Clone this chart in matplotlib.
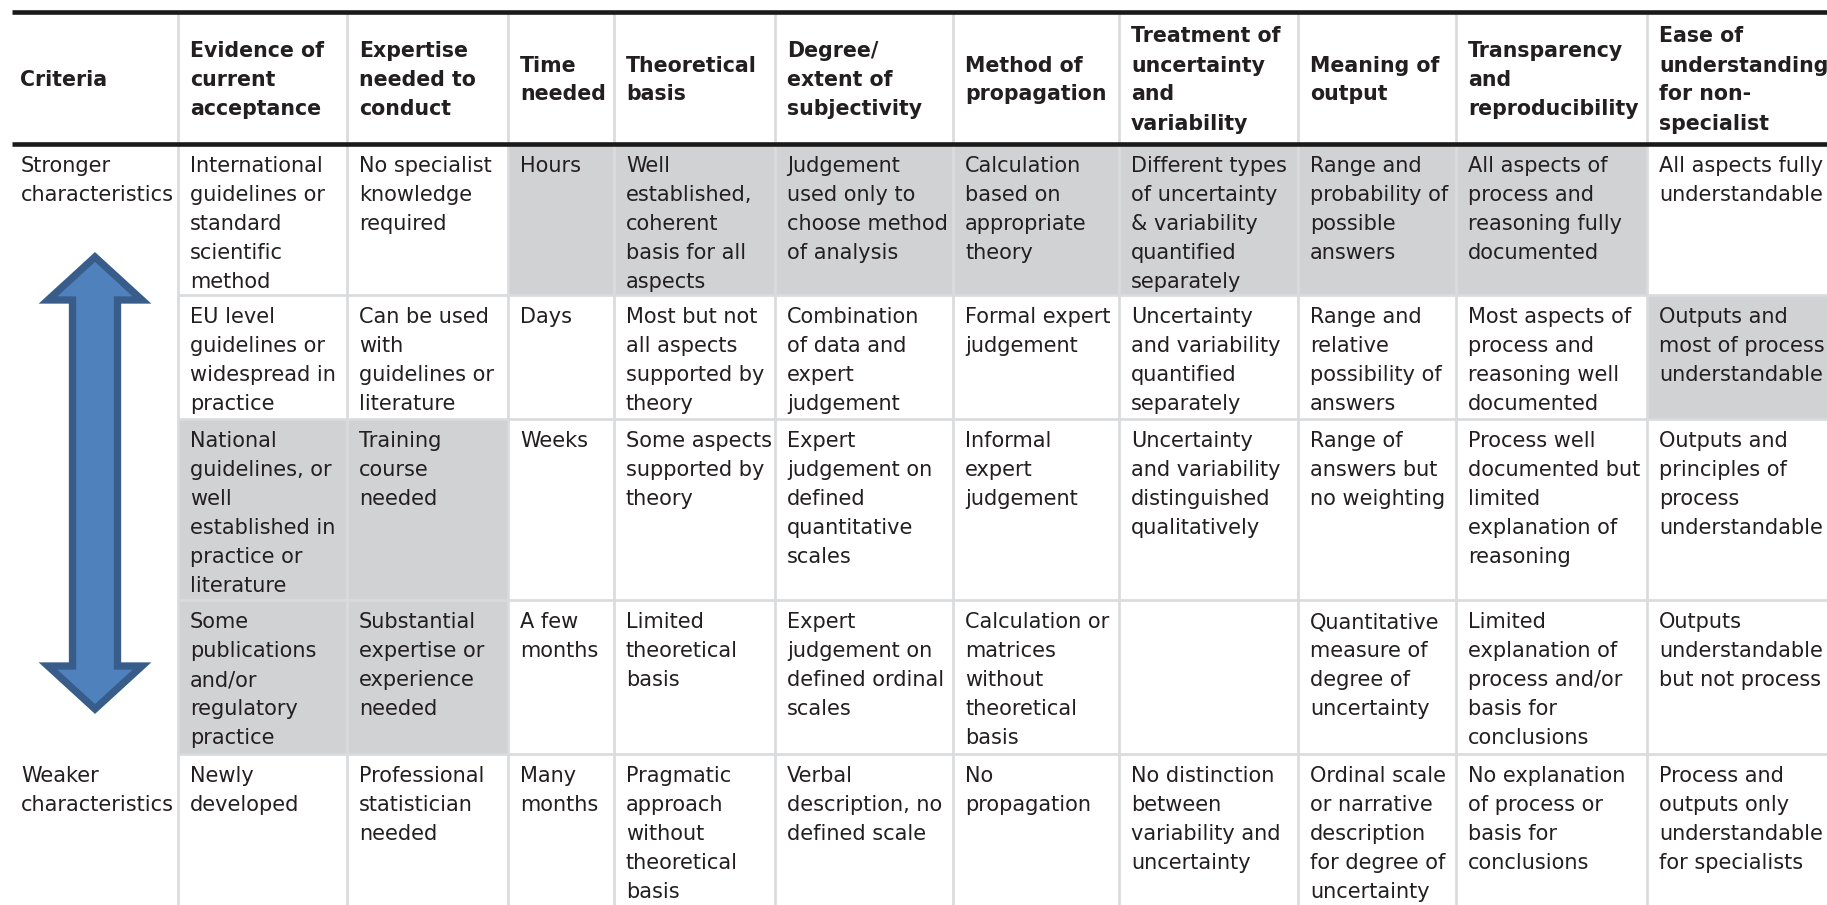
import matplotlib
matplotlib.use("Agg")
import matplotlib.pyplot as plt
from matplotlib.patches import Rectangle, Polygon

# ---------------- data ----------------
headers = ["Criteria", "Evidence of\ncurrent\nacceptance", "Expertise\nneeded to\nconduct",
           "Time\nneeded", "Theoretical\nbasis", "Degree/\nextent of\nsubjectivity",
           "Method of\npropagation", "Treatment of\nuncertainty\nand\nvariability",
           "Meaning of\noutput", "Transparency\nand\nreproducibility",
           "Ease of\nunderstanding\nfor non-\nspecialist"]

row_labels = ["Stronger\ncharacteristics", "", "", "", "Weaker\ncharacteristics"]

evidence = ["International\nguidelines or\nstandard\nscientific\nmethod",
            "EU level\nguidelines or\nwidespread in\npractice",
            "National\nguidelines, or\nwell\nestablished in\npractice or\nliterature",
            "Some\npublications\nand/or\nregulatory\npractice",
            "Newly\ndeveloped"]
expertise = ["No specialist\nknowledge\nrequired",
             "Can be used\nwith\nguidelines or\nliterature",
             "Training\ncourse\nneeded",
             "Substantial\nexpertise or\nexperience\nneeded",
             "Professional\nstatistician\nneeded"]
time_needed = ["Hours", "Days", "Weeks", "A few\nmonths", "Many\nmonths"]
theory = ["Well\nestablished,\ncoherent\nbasis for all\naspects",
          "Most but not\nall aspects\nsupported by\ntheory",
          "Some aspects\nsupported by\ntheory",
          "Limited\ntheoretical\nbasis",
          "Pragmatic\napproach\nwithout\ntheoretical\nbasis"]
subjectivity = ["Judgement\nused only to\nchoose method\nof analysis",
                "Combination\nof data and\nexpert\njudgement",
                "Expert\njudgement on\ndefined\nquantitative\nscales",
                "Expert\njudgement on\ndefined ordinal\nscales",
                "Verbal\ndescription, no\ndefined scale"]
propagation = ["Calculation\nbased on\nappropriate\ntheory",
               "Formal expert\njudgement",
               "Informal\nexpert\njudgement",
               "Calculation or\nmatrices\nwithout\ntheoretical\nbasis",
               "No\npropagation"]
treatment = ["Different types\nof uncertainty\n& variability\nquantified\nseparately",
             "Uncertainty\nand variability\nquantified\nseparately",
             "Uncertainty\nand variability\ndistinguished\nqualitatively",
             "",
             "No distinction\nbetween\nvariability and\nuncertainty"]
meaning = ["Range and\nprobability of\npossible\nanswers",
           "Range and\nrelative\npossibility of\nanswers",
           "Range of\nanswers but\nno weighting",
           "Quantitative\nmeasure of\ndegree of\nuncertainty",
           "Ordinal scale\nor narrative\ndescription\nfor degree of\nuncertainty"]
transparency = ["All aspects of\nprocess and\nreasoning fully\ndocumented",
                "Most aspects of\nprocess and\nreasoning well\ndocumented",
                "Process well\ndocumented but\nlimited\nexplanation of\nreasoning",
                "Limited\nexplanation of\nprocess and/or\nbasis for\nconclusions",
                "No explanation\nof process or\nbasis for\nconclusions"]
ease = ["All aspects fully\nunderstandable",
        "Outputs and\nmost of process\nunderstandable",
        "Outputs and\nprinciples of\nprocess\nunderstandable",
        "Outputs\nunderstandable\nbut not process",
        "Process and\noutputs only\nunderstandable\nfor specialists"]

columns = [evidence, expertise, time_needed, theory, subjectivity,
           propagation, treatment, meaning, transparency, ease]

shaded = [
    [0, 0, 1, 1, 1, 1, 1, 1, 1, 0],
    [0, 0, 0, 0, 0, 0, 0, 0, 0, 1],
    [1, 1, 0, 0, 0, 0, 0, 0, 0, 0],
    [1, 1, 0, 0, 0, 0, 0, 0, 0, 0],
    [0, 0, 0, 0, 0, 0, 0, 0, 0, 0],
]

# ---------------- layout / style ----------------
W, H, DPI = 1827, 905, 100
col_edges = [0, 178, 347, 508, 614, 775, 953, 1119, 1298, 1456, 1647, 1900]
top_line_y = 11.7
head_line_y = 143.7
row_edges = [head_line_y, 295, 419, 600, 754, 905]
line_step = 29
first_baseline = 28
head_mid_baseline = 86
pad = 12
label_pad = 21

GREY = "#d1d2d4"
GRID = "#dadbdd"
TXT = "#231f20"
FONT = "DejaVu Sans"
PX = 72.0 / DPI

fig = plt.figure(figsize=(W / DPI, H / DPI), dpi=DPI)
ax = fig.add_axes([0, 0, 1, 1])
ax.set_xlim(0, W)
ax.set_ylim(H, 0)
ax.axis("off")

renderer = fig.canvas.get_renderer()


def fit_size(s, target, weight):
    t = ax.text(0, 0, s, fontsize=10, family=FONT, fontweight=weight)
    w = t.get_window_extent(renderer).width
    t.remove()
    return 10 * target / w


body_fs = fit_size("International", 133, "normal")
head_fs = fit_size("Criteria", 87, "bold")

# shaded cells
for ri in range(len(row_labels)):
    for ci in range(len(columns)):
        if shaded[ri][ci]:
            x0, x1 = col_edges[ci + 1], col_edges[ci + 2]
            y0, y1 = row_edges[ri], row_edges[ri + 1]
            ax.add_patch(Rectangle((x0, y0), x1 - x0, y1 - y0,
                                   facecolor=GREY, edgecolor="none", zorder=1))

# grid lines
for x in col_edges[1:-1]:
    ax.plot([x, x], [top_line_y, H], color=GRID, lw=2.7 * PX, zorder=2,
            solid_capstyle="butt")
for y in row_edges[1:-1]:
    ax.plot([col_edges[1], W], [y, y], color=GRID, lw=2.7 * PX, zorder=2,
            solid_capstyle="butt")
for y in (top_line_y, head_line_y):
    ax.plot([12, W], [y, y], color="#1a1a1a", lw=4.6 * PX, zorder=3,
            solid_capstyle="butt")

# header text
for ci, htxt in enumerate(headers):
    lines = htxt.split("\n")
    n = len(lines)
    x = (label_pad - 1) if ci == 0 else col_edges[ci] + pad
    for k, ln in enumerate(lines):
        y = head_mid_baseline + (k - (n - 1) / 2) * line_step
        ax.text(x, y, ln, fontsize=head_fs, fontweight="bold", family=FONT,
                color=TXT, va="baseline", ha="left", zorder=4)

# row labels
for ri, lab in enumerate(row_labels):
    if not lab:
        continue
    for k, ln in enumerate(lab.split("\n")):
        ax.text(label_pad, row_edges[ri] + first_baseline + k * line_step, ln,
                fontsize=body_fs, family=FONT, color=TXT, va="baseline",
                ha="left", zorder=4)

# body text
for ci, col in enumerate(columns):
    for ri, cell in enumerate(col):
        if not cell:
            continue
        for k, ln in enumerate(cell.split("\n")):
            ax.text(col_edges[ci + 1] + pad,
                    row_edges[ri] + first_baseline + k * line_step, ln,
                    fontsize=body_fs, family=FONT, color=TXT,
                    va="baseline", ha="left", zorder=4)

# double-headed arrow
cx = 95
hs = 22.5
hw = 47
arrow_pts = [(cx, 257), (cx + hw, 300), (cx + hs, 300), (cx + hs, 666),
             (cx + hw, 666), (cx, 709), (cx - hw, 666), (cx - hs, 666),
             (cx - hs, 300), (cx - hw, 300)]
ax.add_patch(Polygon(arrow_pts, closed=True, facecolor="#4f81bd",
                     edgecolor="#385d8a", lw=7.3 * PX, joinstyle="miter",
                     zorder=5))

fig.savefig("out.png", dpi=DPI)
